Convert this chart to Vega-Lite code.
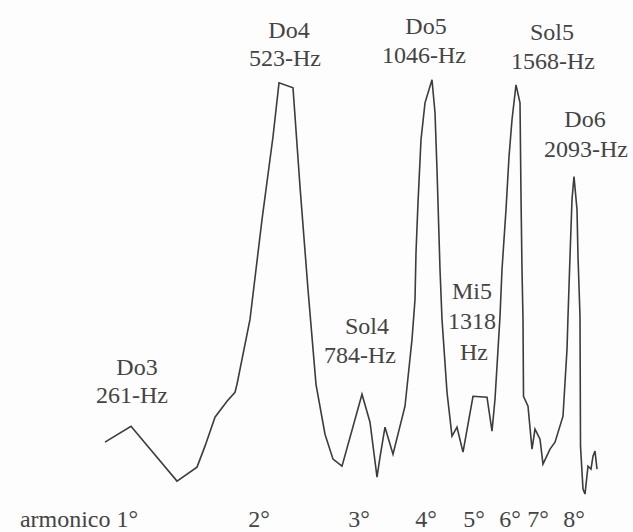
{
  "$schema": "https://vega.github.io/schema/vega-lite/v6.json",
  "width": 633,
  "height": 532,
  "padding": 0,
  "autosize": {"type": "fit", "contains": "padding"},
  "background": "#fdfdfd",
  "config": {"view": {"stroke": null}, "font": "Liberation Serif", "text": {"font": "Liberation Serif"}},
  "datasets": {
    "spectrum": [
      {"pos": 105, "level": 89}, {"pos": 131, "level": 105}, {"pos": 177, "level": 50},
      {"pos": 197, "level": 64}, {"pos": 205, "level": 85}, {"pos": 215, "level": 114},
      {"pos": 227, "level": 130}, {"pos": 235, "level": 139}, {"pos": 237, "level": 147},
      {"pos": 250, "level": 212}, {"pos": 262, "level": 312}, {"pos": 273, "level": 395},
      {"pos": 279, "level": 449}, {"pos": 293, "level": 444}, {"pos": 300, "level": 345},
      {"pos": 308, "level": 242}, {"pos": 316, "level": 147}, {"pos": 325, "level": 97},
      {"pos": 333, "level": 72}, {"pos": 342, "level": 65}, {"pos": 362, "level": 137},
      {"pos": 370, "level": 109}, {"pos": 376, "level": 62}, {"pos": 377, "level": 54},
      {"pos": 380, "level": 74}, {"pos": 385, "level": 104}, {"pos": 393, "level": 77},
      {"pos": 405, "level": 125}, {"pos": 412, "level": 192}, {"pos": 415, "level": 232},
      {"pos": 416, "level": 279}, {"pos": 418, "level": 329}, {"pos": 421, "level": 392},
      {"pos": 425, "level": 429}, {"pos": 432, "level": 452}, {"pos": 435, "level": 419},
      {"pos": 437, "level": 362}, {"pos": 440, "level": 262}, {"pos": 442, "level": 212},
      {"pos": 447, "level": 139}, {"pos": 452, "level": 95}, {"pos": 457, "level": 104},
      {"pos": 463, "level": 79}, {"pos": 473, "level": 135}, {"pos": 487, "level": 134},
      {"pos": 492, "level": 100}, {"pos": 495, "level": 132}, {"pos": 500, "level": 215},
      {"pos": 502, "level": 262}, {"pos": 506, "level": 322}, {"pos": 509, "level": 375},
      {"pos": 512, "level": 412}, {"pos": 516, "level": 447}, {"pos": 520, "level": 429},
      {"pos": 521, "level": 335}, {"pos": 522, "level": 262}, {"pos": 523, "level": 212},
      {"pos": 523.5, "level": 135}, {"pos": 528, "level": 125}, {"pos": 532, "level": 82},
      {"pos": 535, "level": 102}, {"pos": 540, "level": 92}, {"pos": 543, "level": 67},
      {"pos": 550, "level": 82}, {"pos": 555, "level": 89}, {"pos": 563, "level": 115},
      {"pos": 567, "level": 182}, {"pos": 568, "level": 215}, {"pos": 570, "level": 275},
      {"pos": 572, "level": 332}, {"pos": 574, "level": 355}, {"pos": 577, "level": 322},
      {"pos": 578, "level": 275}, {"pos": 580, "level": 215}, {"pos": 580.5, "level": 85},
      {"pos": 583, "level": 42}, {"pos": 585, "level": 37}, {"pos": 588, "level": 65},
      {"pos": 591, "level": 62}, {"pos": 593, "level": 75}, {"pos": 595, "level": 80},
      {"pos": 597, "level": 62}
    ],
    "labels": [
      {"text": "Do3", "pos": 137, "level": 163},
      {"text": "261-Hz", "pos": 132, "level": 135},
      {"text": "Do4", "pos": 289, "level": 501},
      {"text": "523-Hz", "pos": 285, "level": 473},
      {"text": "Sol4", "pos": 367, "level": 204},
      {"text": "784-Hz", "pos": 360, "level": 175},
      {"text": "Do5", "pos": 426, "level": 505},
      {"text": "1046-Hz", "pos": 424, "level": 476},
      {"text": "Mi5", "pos": 472, "level": 239},
      {"text": "1318", "pos": 472, "level": 209},
      {"text": "Hz", "pos": 474, "level": 178},
      {"text": "Sol5", "pos": 552, "level": 499},
      {"text": "1568-Hz", "pos": 553, "level": 470},
      {"text": "Do6", "pos": 585, "level": 412},
      {"text": "2093-Hz", "pos": 586, "level": 382},
      {"text": "armonico 1°", "pos": 79, "level": 11},
      {"text": "2°", "pos": 259, "level": 11},
      {"text": "3°", "pos": 359, "level": 11},
      {"text": "4°", "pos": 426, "level": 11},
      {"text": "5°", "pos": 474, "level": 11},
      {"text": "6°", "pos": 510, "level": 11},
      {"text": "7°", "pos": 538, "level": 11},
      {"text": "8°", "pos": 574, "level": 11}
    ]
  },
  "layer": [
    {
      "data": {"name": "spectrum"},
      "mark": {"type": "line", "color": "#3c3c3c", "strokeWidth": 1.6, "strokeJoin": "miter", "clip": false},
      "encoding": {
        "x": {"field": "pos", "type": "quantitative", "scale": {"domain": [0, 633], "nice": false, "zero": false}, "axis": null},
        "y": {"field": "level", "type": "quantitative", "scale": {"domain": [0, 532], "nice": false, "zero": false}, "axis": null}
      }
    },
    {
      "data": {"name": "labels"},
      "mark": {"type": "text", "font": "Liberation Serif", "fontSize": 24, "color": "#444444", "align": "center", "baseline": "middle"},
      "encoding": {
        "x": {"field": "pos", "type": "quantitative", "scale": {"domain": [0, 633], "nice": false, "zero": false}, "axis": null},
        "y": {"field": "level", "type": "quantitative", "scale": {"domain": [0, 532], "nice": false, "zero": false}, "axis": null},
        "text": {"field": "text", "type": "nominal"}
      }
    }
  ]
}
